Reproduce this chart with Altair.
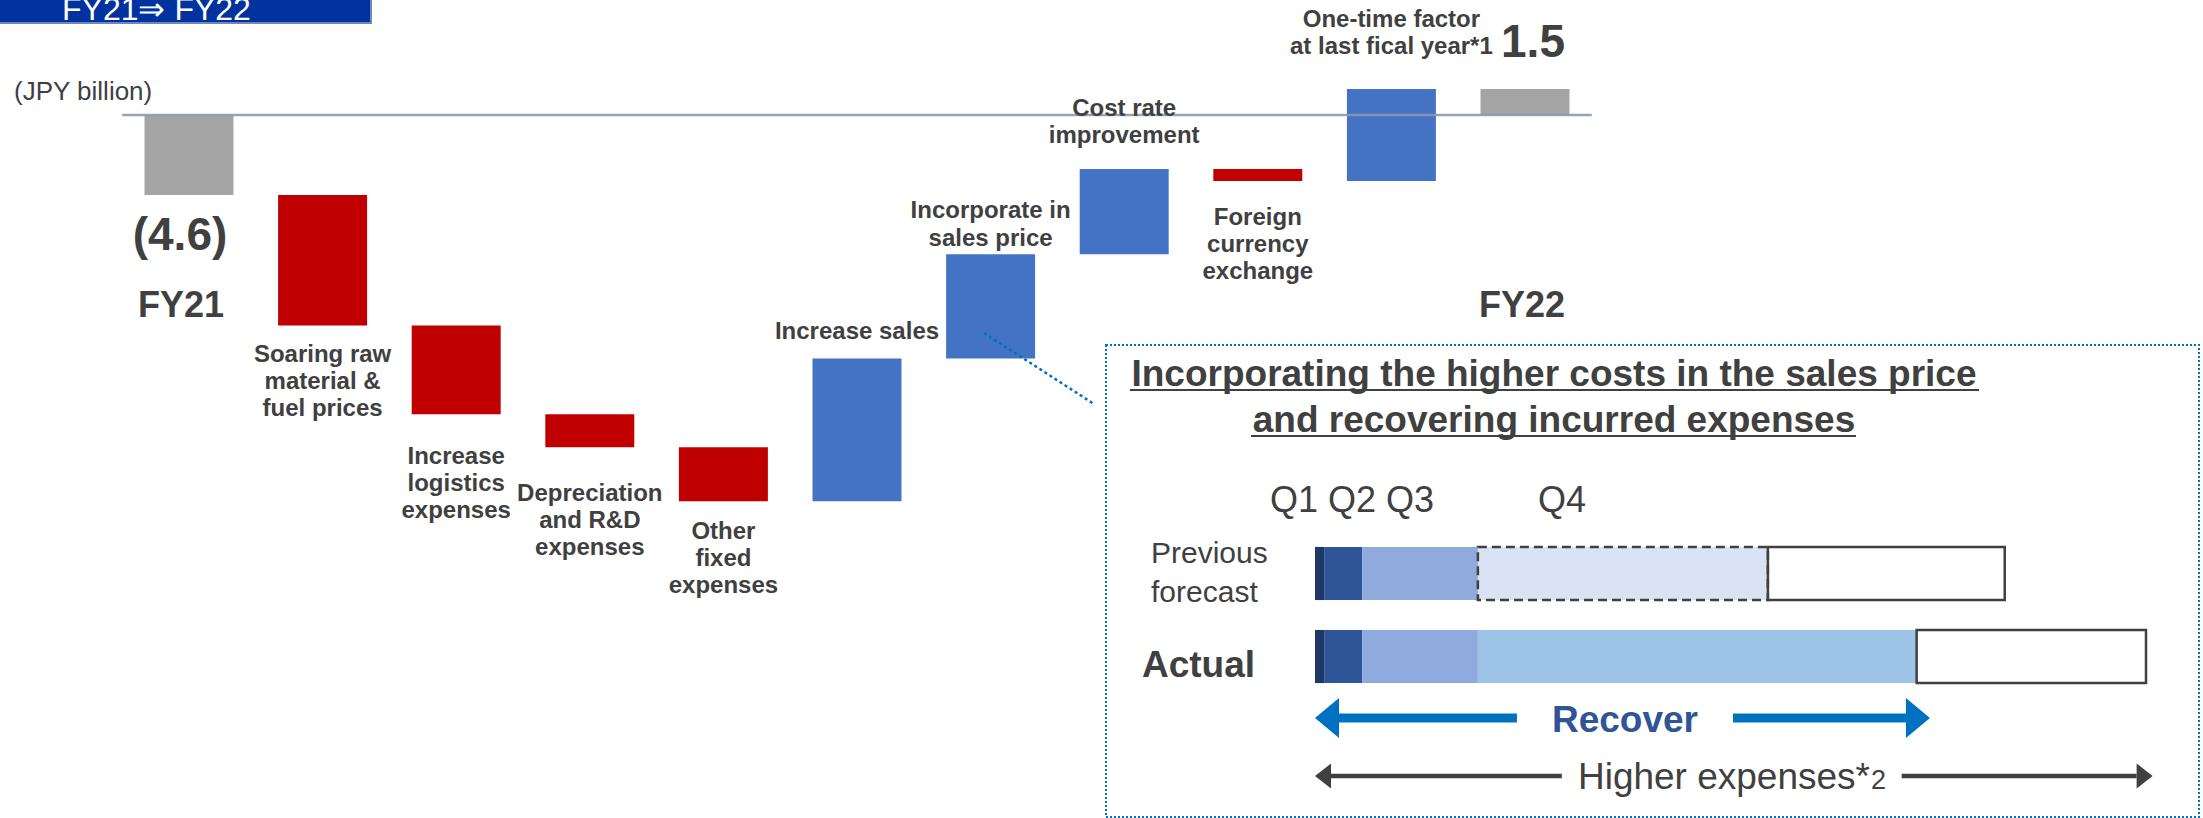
import altair as alt
import pandas as pd

FONT = "Liberation Sans, Arial, Helvetica, sans-serif"
INK = "#404040"
W, H = 2203, 818

# ---------------- bridge FY21 -> FY22 (JPY billion) ----------------
steps = ["FY21", "Soaring raw material & fuel prices", "Increase logistics expenses",
         "Depreciation and R&D expenses", "Other fixed expenses", "Increase sales",
         "Incorporate in sales price", "Cost rate improvement", "Foreign currency exchange",
         "One-time factor at last fical year*1", "FY22"]
values = [-4.6, -7.5, -5.1, -1.9, -3.1, 8.2, 6.0, 4.9, -0.7, 5.3, 1.5]
kinds = ["total", "down", "down", "down", "down", "up", "up", "up", "down", "up", "total"]
step_lines = [[], ["Soaring raw", "material &", "fuel prices"],
              ["Increase", "logistics", "expenses"],
              ["Depreciation", "and R&D", "expenses"],
              ["Other", "fixed", "expenses"],
              ["Increase sales"],
              ["Incorporate in", "sales price"],
              ["Cost rate", "improvement"],
              ["Foreign", "currency", "exchange"],
              ["One-time factor", "at last fical year*1"], []]

# ---------------- recovery inset ----------------
quarters = ["Q1", "Q2", "Q3", "Q4"]
row_names = ["Previous forecast", "Actual"]
prev_keys = ["Q1", "Q2", "Q3", "Q4 plan", "Open"]
prev_share = [1.1, 4.6, 13.9, 34.9, 28.5]
actual_keys = ["Q1", "Q2", "Q3", "Q4", "Open"]
actual_share = [1.1, 4.6, 13.9, 52.8, 27.6]
recover_span = [0.0, 74.0]
expense_span = [0.0, 100.8]

# ---------------- layout (pixels) ----------------
WX = alt.Scale(domain=[0, 10], range=[189, 1525], nice=False, zero=False)
WY = alt.Scale(domain=[-10, 0], range=[289, 115], nice=False, zero=False)
PY = alt.Scale(domain=[0, H], range=[0, H], nice=False, zero=False)
IX = alt.Scale(domain=[0, 100], range=[1315, 2146], nice=False, zero=False)
IY = alt.Scale(domain=[0, 1], range=[573.5, 656.5], nice=False, zero=False)
HALF_BAR = 0.333
HALF_ROW = 0.32
label_mid_y = [None, 382, 484, 521, 559, 332, 225, 122.5, 245, 33.5, None]
LINE_H = 27.3

# running totals for the bridge
rows, running = [], 0.0
for i, (s, v, k) in enumerate(zip(steps, values, kinds)):
    if k == "total":
        start, end = 0.0, v
        running = v
    else:
        start, end = running, running + v
        running = end
    rows.append({"idx": i, "step": s, "kind": k, "start": start, "end": end})
bridge = pd.DataFrame(rows)

bars = alt.Chart(bridge).transform_calculate(
    x0=f"datum.idx - {HALF_BAR}", x1=f"datum.idx + {HALF_BAR}"
).mark_rect().encode(
    x=alt.X("x0:Q", scale=WX, axis=None),
    x2="x1:Q",
    y=alt.Y("start:Q", scale=WY, axis=None),
    y2="end:Q",
    color=alt.Color("kind:N", legend=None,
                    scale=alt.Scale(domain=["total", "down", "up"],
                                    range=["#A5A5A5", "#C00000", "#4472C4"])),
)

zero_line = alt.Chart(pd.DataFrame({"v": [0.0], "a": [-0.5], "b": [10.5]})).mark_rule(
    color="#8D99AB", strokeWidth=2.5, opacity=0.9
).encode(x=alt.X("a:Q", scale=WX, axis=None), x2="b:Q", y=alt.Y("v:Q", scale=WY, axis=None))

# category labels, one row per text line
lab_rows = []
for i, lines in enumerate(step_lines):
    n = len(lines)
    for j, line in enumerate(lines):
        lab_rows.append({"idx": i, "t": line, "y": label_mid_y[i] + (j - (n - 1) / 2) * LINE_H})
cat_labels = alt.Chart(pd.DataFrame(lab_rows)).mark_text(
    font=FONT, fontSize=24, fontWeight="bold", color=INK, baseline="middle"
).encode(
    x=alt.X("idx:Q", scale=WX, axis=None),
    y=alt.Y("y:Q", scale=PY, axis=None),
    text="t:N",
)


def fmt(v):
    return f"({abs(v):.1f})" if v < 0 else f"{v:.1f}"


def step_text(text, idx, y, size, dx=0, weight="bold", color=INK):
    return alt.Chart(pd.DataFrame({"i": [idx], "y": [y], "t": [text]})).mark_text(
        font=FONT, fontSize=size, fontWeight=weight, color=color,
        baseline="alphabetic", align="center", dx=dx
    ).encode(x=alt.X("i:Q", scale=WX, axis=None), y=alt.Y("y:Q", scale=PY, axis=None), text="t:N")


def note(text, x, y, size, weight="normal", color=INK, align="left", baseline="alphabetic"):
    return alt.Chart(pd.DataFrame({"t": [text]})).mark_text(
        font=FONT, fontSize=size, fontWeight=weight, color=color, align=align, baseline=baseline
    ).encode(x=alt.value(x), y=alt.value(y), text="t:N")


def hline(x1, x2, y, color=INK, width=2.0, dash=None):
    kw = dict(color=color, strokeWidth=width)
    if dash:
        kw["strokeDash"] = dash
    return alt.Chart(pd.DataFrame({"k": [0]})).mark_rule(**kw).encode(
        x=alt.value(x1), x2=alt.value(x2), y=alt.value(y), y2=alt.value(y if isinstance(y, (int, float)) else y)
    )


totals = [
    step_text(fmt(values[0]), 0, 250, 46, dx=-9),
    step_text(steps[0], 0, 317, 36, dx=-8),
    step_text(fmt(values[-1]), 10, 57, 46, dx=8),
    step_text(steps[-1], 10, 317, 36, dx=-3),
]

# header banner
banner = alt.Chart(pd.DataFrame({"k": [0]})).mark_rect(
    fill="#0033A0", stroke="#7088BD", strokeWidth=2
).encode(x=alt.value(-4), x2=alt.value(371), y=alt.value(-6), y2=alt.value(23))
banner_text = note("FY21\u21d2 FY22", 62, 20, 32, color="white")
unit_text = note("(JPY billion)", 14, 100, 26)

# leader from the sales-price bar to the inset
leader = alt.Chart(pd.DataFrame({"k": [0]})).mark_rule(
    color="#0070C0", strokeWidth=2.5, strokeDash=[3, 3]
).encode(x=alt.value(984), y=alt.value(333), x2=alt.value(1094), y2=alt.value(404))

# inset frame
frame = alt.Chart(pd.DataFrame({"k": [0]})).mark_rect(
    fillOpacity=0, stroke="#0070C0", strokeWidth=2, strokeDash=[2, 2]
).encode(x=alt.value(1106), x2=alt.value(2199), y=alt.value(345), y2=alt.value(817))

title1 = note("Incorporating the higher costs in the sales price", 1554, 386, 37, weight="bold", align="center")
title2 = note("and recovering incurred expenses", 1554, 432, 37, weight="bold", align="center")
under1 = hline(1130, 1979, 390)
under2 = hline(1251, 1856, 436)

q123 = note(" ".join(quarters[:3]), 1270, 512, 36)
q4 = note(quarters[3], 1538, 512, 36)

prev_l1 = note(row_names[0].split(" ")[0], 1151, 563, 30)
prev_l2 = note(row_names[0].split(" ")[1], 1151, 602, 30)
actual_lbl = note(row_names[1], 1142, 677, 37, weight="bold")

# progress bars
seg_rows = []
for r, (keys, shares) in enumerate([(prev_keys, prev_share), (actual_keys, actual_share)]):
    acc = 0.0
    for k, s in zip(keys, shares):
        seg_rows.append({"row": r, "key": k, "start": acc, "end": acc + s})
        acc += s
segs = pd.DataFrame(seg_rows)

seg_base = alt.Chart(segs).transform_calculate(
    y0=f"datum.row - {HALF_ROW}", y1=f"datum.row + {HALF_ROW}"
)
seg_enc = dict(
    x=alt.X("start:Q", scale=IX, axis=None), x2="end:Q",
    y=alt.Y("y0:Q", scale=IY, axis=None), y2="y1:Q",
)
seg_fill = seg_base.mark_rect().encode(
    color=alt.Color("key:N", legend=None, scale=alt.Scale(
        domain=["Q1", "Q2", "Q3", "Q4 plan", "Q4", "Open"],
        range=["#203864", "#2F5597", "#8FAADC", "#DAE3F3", "#9DC3E6", "#FFFFFF"])),
    **seg_enc,
)
seg_open = seg_base.transform_filter("datum.key == 'Open'").mark_rect(
    fillOpacity=0, stroke=INK, strokeWidth=2.5
).encode(**seg_enc)
seg_plan = seg_base.transform_filter("datum.key == 'Q4 plan'").mark_rect(
    fillOpacity=0, stroke=INK, strokeWidth=2.5, strokeDash=[9, 5]
).encode(**seg_enc)


def arrow(span, y, color, width, head_len_px, head_h_px, gap):
    unit = (2146 - 1315) / 100.0
    hl = head_len_px / unit
    a, b = span
    shafts = pd.DataFrame({"s": [a + hl, gap[1]], "e": [gap[0], b - hl]})
    shaft = alt.Chart(shafts).mark_rule(color=color, strokeWidth=width).encode(
        x=alt.X("s:Q", scale=IX, axis=None), x2="e:Q", y=alt.value(y)
    )
    r = head_len_px / head_h_px
    layers = [shaft]
    for pos, path in [(a + hl / 2, f"M{-r},0L{r},-1L{r},1Z"), (b - hl / 2, f"M{r},0L{-r},-1L{-r},1Z")]:
        layers.append(
            alt.Chart(pd.DataFrame({"p": [pos]})).mark_point(
                shape=path, filled=True, size=head_h_px ** 2, color=color, opacity=1, strokeWidth=0
            ).encode(x=alt.X("p:Q", scale=IX, axis=None), y=alt.value(y))
        )
    return layers


recover_arrow = arrow(recover_span, 718, "#0070C0", 9, 24, 40, (24.3, 50.3))
expense_arrow = arrow(expense_span, 776, INK, 4.5, 16, 25, (29.7, 70.6))
recover_text = note("Recover", 1625, 732, 37, weight="bold", color="#2F5597", align="center")
expense_text = note("Higher expenses*", 1870, 789, 37, align="right")
expense_sub = note("2", 1871, 789, 27)

layers = [banner, banner_text, unit_text, bars, zero_line, cat_labels, *totals,
          leader, frame, title1, title2, under1, under2, q123, q4,
          prev_l1, prev_l2, actual_lbl, seg_fill, seg_plan, seg_open,
          *recover_arrow, *expense_arrow, recover_text, expense_text, expense_sub]

chart = alt.layer(*layers).resolve_scale(
    x="independent", y="independent", color="independent"
).properties(
    width=W, height=H, padding=0, autosize=alt.AutoSizeParams(type="none"), background="white"
).configure_view(stroke=None)

chart.save("out.html", embed_options={"renderer": "svg", "actions": False})
